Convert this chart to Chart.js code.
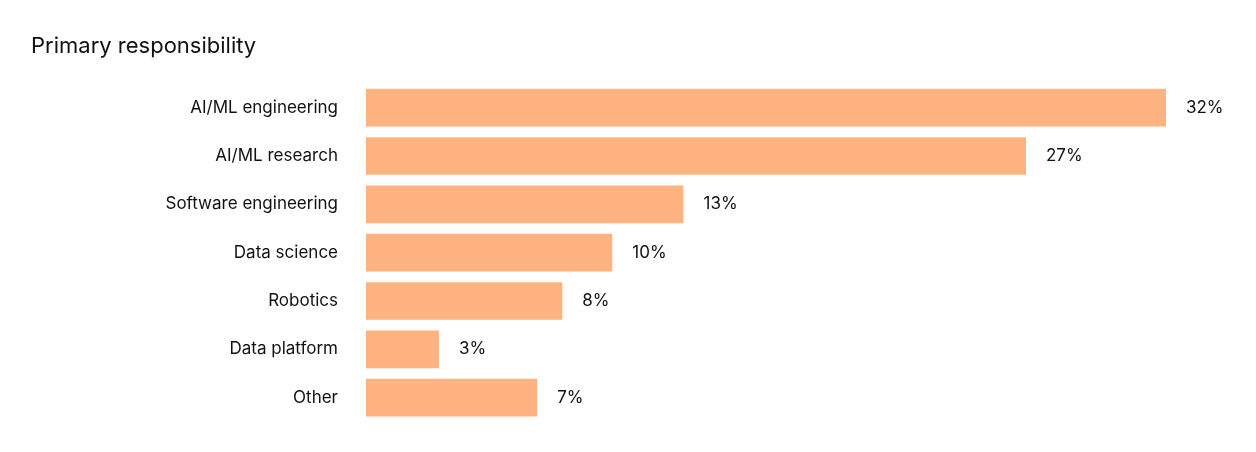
<!DOCTYPE html>
<html><head><meta charset="utf-8">
<script src="https://cdn.jsdelivr.net/npm/chart.js@4"></script>
<style>html,body{margin:0;padding:0;background:#fff}#w{width:1256px;height:452px}</style>
</head><body><div id="w"><canvas id="c"></canvas></div>
<script>
const categories = ["AI/ML engineering","AI/ML research","Software engineering","Data science","Robotics","Data platform","Other"];
const values = [32, 26.4, 12.7, 9.85, 7.85, 2.92, 6.85];
const valueLabels = ["32%","27%","13%","10%","8%","3%","7%"];
const chartTitle = "Primary responsibility";

const extras = {
  id:'extras',
  afterDraw(chart){
    const ctx = chart.ctx;
    ctx.save();
    ctx.fillStyle = '#111';
    ctx.font = '22px Inter';
    ctx.textBaseline = 'middle';
    ctx.textAlign = 'left';
    ctx.fillText(chartTitle, 31, 46);
    ctx.font = '17px Inter';
    const meta = chart.getDatasetMeta(0);
    meta.data.forEach((b,i)=>{ ctx.fillText(valueLabels[i], b.x + 20, b.y); });
    ctx.restore();
  }
};

new Chart(document.getElementById('c'), {
  type:'bar',
  data:{labels:categories, datasets:[{data:values, backgroundColor:'#FFB381', categoryPercentage:1, barPercentage:0.78}]},
  options:{
    indexAxis:'y', responsive:true, maintainAspectRatio:false, animation:false,
    layout:{padding:{top:83.5, bottom:25.5, right:90, left:0}},
    plugins:{legend:{display:false}, tooltip:{enabled:false}},
    scales:{
      x:{min:0, max:32, display:false},
      y:{grid:{display:false}, border:{display:false},
         ticks:{color:'#111', font:{family:'Inter', size:17}, padding:20},
         afterFit(s){ s.width = 366; }}
    }
  },
  plugins:[extras]
});
</script></body></html>
